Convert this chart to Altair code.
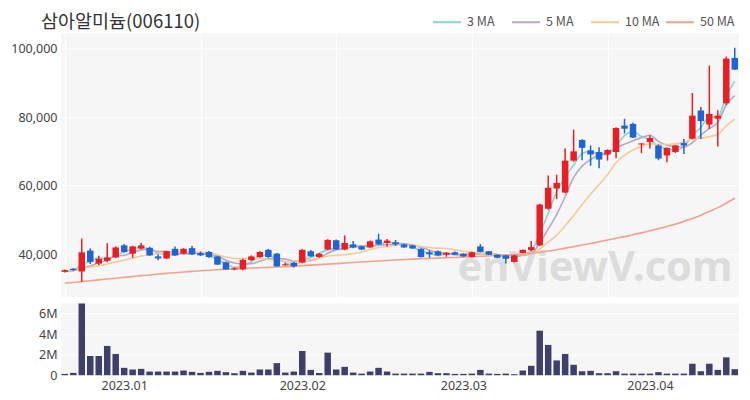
import altair as alt
import pandas as pd

# ---- data ----
opens = [34900, 35800, 35000, 41100, 37300, 38100, 39100, 42600, 40200, 41700,
         41900, 39400, 38800, 41600, 40200, 41800, 40400, 40700, 39400, 37700,
         35600, 35600, 38300, 39200, 41300, 40200, 36800, 37500, 37600, 40900,
         39200, 41400, 44100, 41400, 42900, 42300, 42000, 44300, 43300, 43500,
         42900, 42600, 41600, 40600, 40900, 39900, 40600, 40200, 39200, 42300,
         40900, 39900, 39700, 37800, 40400, 41200, 42600, 53300, 59200, 58000,
         67300, 73300, 70300, 69800, 69100, 69800, 77500, 78000, 72000, 72700,
         71700, 68800, 69800, 72400, 73700, 81900, 77800, 79500, 84000, 97200]
highs = [35600, 36000, 44600, 41700, 39600, 43200, 42300, 43000, 42500, 43300,
         42200, 40000, 41000, 42300, 41800, 42400, 40800, 41000, 39600, 37900,
         36200, 38700, 39700, 40900, 41600, 40400, 37500, 37800, 41500, 41200,
         40400, 44400, 44300, 45500, 43900, 42500, 44000, 46000, 44500, 44200,
         43100, 42800, 41800, 41200, 41100, 40600, 40800, 40300, 40800, 43000,
         41000, 40000, 39800, 39800, 41400, 43900, 54700, 63000, 63200, 70800,
         76300, 73500, 71700, 71200, 70600, 77000, 79500, 78300, 72400, 74700,
         72000, 71100, 71800, 73600, 87000, 83000, 95000, 82000, 97600, 100200]
lows = [34700, 35200, 32000, 37200, 36900, 37700, 38900, 40500, 39000, 41500,
        39500, 38300, 38600, 39600, 40000, 39800, 39500, 39000, 36900, 35500,
        35400, 35400, 38100, 39000, 39000, 36400, 36700, 36200, 37400, 39300,
        39000, 41200, 41300, 41200, 41800, 41300, 41900, 42800, 42300, 42500,
        41900, 41600, 39100, 39000, 39600, 39300, 39800, 39300, 39100, 40600,
        39800, 38900, 37300, 37600, 40300, 41000, 42400, 53000, 56100, 57800,
        67000, 67400, 65800, 65100, 67300, 68000, 75200, 73900, 69500, 70800,
        67400, 66800, 69500, 69200, 73500, 73600, 76500, 71400, 83500, 93800]
closes = [35400, 35400, 40600, 37800, 38700, 39100, 42000, 40700, 42300, 42600,
          39700, 38800, 40900, 39700, 41600, 40000, 39700, 39200, 37000, 35600,
          35900, 38400, 39400, 40700, 39200, 36500, 37100, 36500, 41300, 39400,
          40200, 44200, 41400, 43300, 42000, 41400, 43800, 42900, 44000, 42900,
          42000, 41700, 39200, 40000, 39700, 40500, 39900, 39400, 40600, 40700,
          39900, 39000, 38700, 39700, 41300, 42100, 54500, 59400, 60800, 67300,
          70000, 71000, 69100, 67600, 70400, 76800, 76600, 74000, 72300, 73900,
          67900, 71000, 71700, 71700, 80400, 78800, 80900, 80400, 97000, 93800]
volumes = [130000, 230000, 6980000, 1870000, 1870000, 2850000, 2070000, 720000, 560000, 620000,
           360000, 360000, 360000, 360000, 460000, 330000, 230000, 330000, 430000, 300000,
           200000, 430000, 260000, 560000, 560000, 1180000, 260000, 360000, 2360000, 520000,
           230000, 2200000, 560000, 820000, 260000, 160000, 360000, 720000, 360000, 160000,
           160000, 160000, 160000, 330000, 200000, 200000, 130000, 130000, 160000, 520000,
           160000, 130000, 160000, 100000, 460000, 920000, 4330000, 2950000, 1440000, 2070000,
           1020000, 390000, 430000, 200000, 200000, 390000, 160000, 160000, 160000, 160000,
           300000, 160000, 160000, 160000, 1120000, 390000, 1120000, 520000, 1740000, 590000]
ma3 = [35000, 35200, 37100, 37900, 39000, 38500, 39900, 40600, 41700, 41900,
       41500, 40400, 39800, 39800, 40700, 40400, 40400, 39600, 38600, 37300,
       36200, 36600, 37900, 39500, 39800, 38800, 37600, 36700, 38300, 39100,
       40300, 41300, 41900, 43000, 42200, 42200, 42400, 42700, 43600, 43300,
       43000, 42200, 41000, 40300, 39600, 40100, 40000, 39900, 40000, 40200,
       40400, 39900, 39200, 39100, 39900, 41000, 46000, 52000, 58200, 62500,
       66000, 69400, 70000, 69200, 69000, 71600, 74600, 75800, 74300, 73400,
       71400, 70900, 70200, 71500, 74600, 77000, 80000, 80000, 86100, 90400]
ma5 = [35200, 35300, 36000, 36600, 37600, 38300, 39600, 39700, 40600, 41300,
       41500, 40800, 40900, 40300, 40100, 40200, 40400, 40000, 39500, 38300,
       37500, 37200, 37300, 38000, 38700, 38800, 38600, 38000, 38100, 38200,
       38900, 40300, 41300, 41700, 42200, 42500, 42400, 42700, 42800, 43000,
       43100, 42700, 42000, 41200, 40500, 40200, 39900, 39900, 40000, 40200,
       40100, 39900, 39800, 39600, 39700, 40200, 43300, 47400, 51600, 56800,
       62400, 65700, 67600, 69000, 69600, 71000, 72100, 73100, 74000, 74700,
       72900, 71800, 71400, 71200, 72500, 74700, 76700, 78400, 83500, 86200]
ma10 = [35300, 35400, 35900, 36300, 36700, 37200, 37800, 38300, 38900, 39500,
        39900, 40200, 40300, 40500, 40700, 40800, 40600, 40500, 39900, 39200,
        38800, 38800, 38700, 38800, 38500, 38200, 37900, 37600, 38100, 38400,
        38900, 39500, 39700, 39900, 40200, 40700, 41400, 42000, 42300, 42600,
        42800, 42500, 42300, 42000, 41800, 41700, 41300, 40900, 40600, 40400,
        40200, 39900, 39800, 39800, 40000, 40100, 41600, 43600, 45600, 48300,
        51300, 54500, 57500, 60300, 63200, 66700, 68900, 70400, 71500, 72200,
        72000, 72000, 72200, 72600, 73600, 73800, 74300, 74900, 77400, 79400]
ma50 = [31600, 31800, 32050, 32300, 32550, 32800, 33050, 33300, 33550, 33800,
        34000, 34250, 34450, 34650, 34850, 35050, 35200, 35350, 35500, 35650,
        35800, 35900, 36000, 36100, 36200, 36300, 36400, 36550, 36700, 36850,
        37000, 37150, 37300, 37450, 37600, 37750, 37900, 38050, 38200, 38350,
        38500, 38600, 38700, 38800, 38900, 39000, 39100, 39200, 39300, 39450,
        39550, 39650, 39800, 39950, 40100, 40300, 40600, 40950, 41350, 41800,
        42250, 42700, 43150, 43650, 44150, 44650, 45150, 45700, 46250, 46850,
        47450, 48100, 48800, 49600, 50450, 51400, 52450, 53600, 54900, 56400]
tick_idx = [7, 28, 47, 69]
tick_labels = ["2023.01", "2023.02", "2023.03", "2023.04"]
price_ticks = [40000, 60000, 80000, 100000]
vol_ticks = [0, 2000000, 4000000, 6000000]
ma_names = ["3 MA", "5 MA", "10 MA", "50 MA"]
ma_colors = ["#86d6cb", "#b9a6cc", "#f3cb94", "#f4a090"]
title_text = "삼아알미늄(006110)"
watermark = "enViewV.com"

# legend layout (pixels from the plot's left edge)
legend_line_x = [372, 451, 530, 605]
LEGEND_LINE_LEN = 28
LEGEND_Y = -11

RED = "#ea1d25"
BLUE = "#1f64d3"
VOL = "#3f3f6c"
FONT = "Noto Sans CJK KR"

n = len(closes)
df = pd.DataFrame({"idx": list(range(n)), "open": opens, "high": highs,
                   "low": lows, "close": closes, "volume": volumes})
ma_rows = []
for name, arr in zip(ma_names, [ma3, ma5, ma10, ma50]):
    for i, v in enumerate(arr):
        ma_rows.append({"idx": i, "value": v, "name": name})
df_ma = pd.DataFrame(ma_rows)

xscale = alt.Scale(domain=[-0.45, 79.5], nice=False, zero=False, padding=0)
yscale = alt.Scale(domain=[27500, 104400], nice=False, zero=False, padding=0)
updown = alt.condition("datum.close >= datum.open", alt.value(RED), alt.value(BLUE))

x_price_axis = alt.Axis(title=None, labels=False, ticks=False, domain=False,
                        values=[0, 16, 32, 48, 64], grid=True)
y_price_axis = alt.Axis(title=None, values=price_ticks,
                        labelExpr="format(datum.value, ',')", grid=True)

W = 678

def px(field="idx"):
    return alt.X(f"{field}:Q", scale=xscale, axis=x_price_axis)

def py(field):
    return alt.Y(f"{field}:Q", scale=yscale, axis=y_price_axis)

lines = alt.Chart(df_ma).mark_line(strokeWidth=1.6, interpolate="monotone").encode(
    x=px(), y=py("value"),
    color=alt.Color("name:N", scale=alt.Scale(domain=ma_names, range=ma_colors), legend=None),
    detail="name:N",
)
wicks = alt.Chart(df).mark_rule(strokeWidth=1.5).encode(
    x=px(), y=py("low"), y2="high:Q", color=updown)
bodies = alt.Chart(df).mark_bar(size=6.5).encode(
    x=px(), y=py("open"), y2="close:Q", color=updown)
one = pd.DataFrame({"a": [0]})
wm = alt.Chart(one).mark_text(
    fontSize=41.5, color="#dcdcdc", font="Noto Sans", fontWeight="bold", align="center",
    baseline="middle").encode(text=alt.value(watermark), x=alt.value(534), y=alt.value(236))
title = alt.Chart(one).mark_text(
    fontSize=18.5, color="#333", font=FONT, align="left", baseline="middle").encode(
    text=alt.value(title_text), x=alt.value(-20), y=alt.value(-11.5))

legend_layers = []
for name, col, lx in zip(ma_names, ma_colors, legend_line_x):
    legend_layers.append(alt.Chart(one).mark_rule(strokeWidth=2, color=col).encode(
        x=alt.value(lx), x2=alt.value(lx + LEGEND_LINE_LEN), y=alt.value(LEGEND_Y)))
    legend_layers.append(alt.Chart(one).mark_text(
        align="left", baseline="middle", fontSize=12.5, color="#555", font=FONT).encode(
        text=alt.value(name), x=alt.value(lx + LEGEND_LINE_LEN + 6), y=alt.value(LEGEND_Y)))

price = alt.layer(wm, lines, wicks, bodies, title, *legend_layers).properties(width=W, height=264)

x_labels = "{" + ",".join(f"'{i}':'{l}'" for i, l in zip(tick_idx, tick_labels)) + "}[datum.value]"
vol = alt.Chart(df).mark_bar(size=6.5, color=VOL).encode(
    x=alt.X("idx:Q", scale=xscale,
            axis=alt.Axis(title=None, values=tick_idx, labelExpr=x_labels,
                          grid=False, labelFontSize=12.5, labelPadding=4)),
    y=alt.Y("volume:Q", scale=alt.Scale(domain=[0, 7000000], nice=False, padding=0),
            axis=alt.Axis(title=None, values=vol_ticks,
                          labelExpr="datum.value == 0 ? '0' : format(datum.value / 1000000, 'd') + 'M'",
                          grid=True)),
).properties(width=W, height=72)

chart = alt.vconcat(price, vol, spacing=6).properties(
    padding={"left": 2, "top": 4.25, "right": 2, "bottom": 2}
).configure_view(stroke=None, fill="#f6f6f6").configure_axis(
    domain=False, ticks=False, labelColor="#444", labelFont="Noto Sans",
    labelFontSize=12.5, gridColor="#ffffff", gridWidth=1, labelPadding=4
)

chart.save("out.html", embed_options={"renderer": "svg", "actions": False})
